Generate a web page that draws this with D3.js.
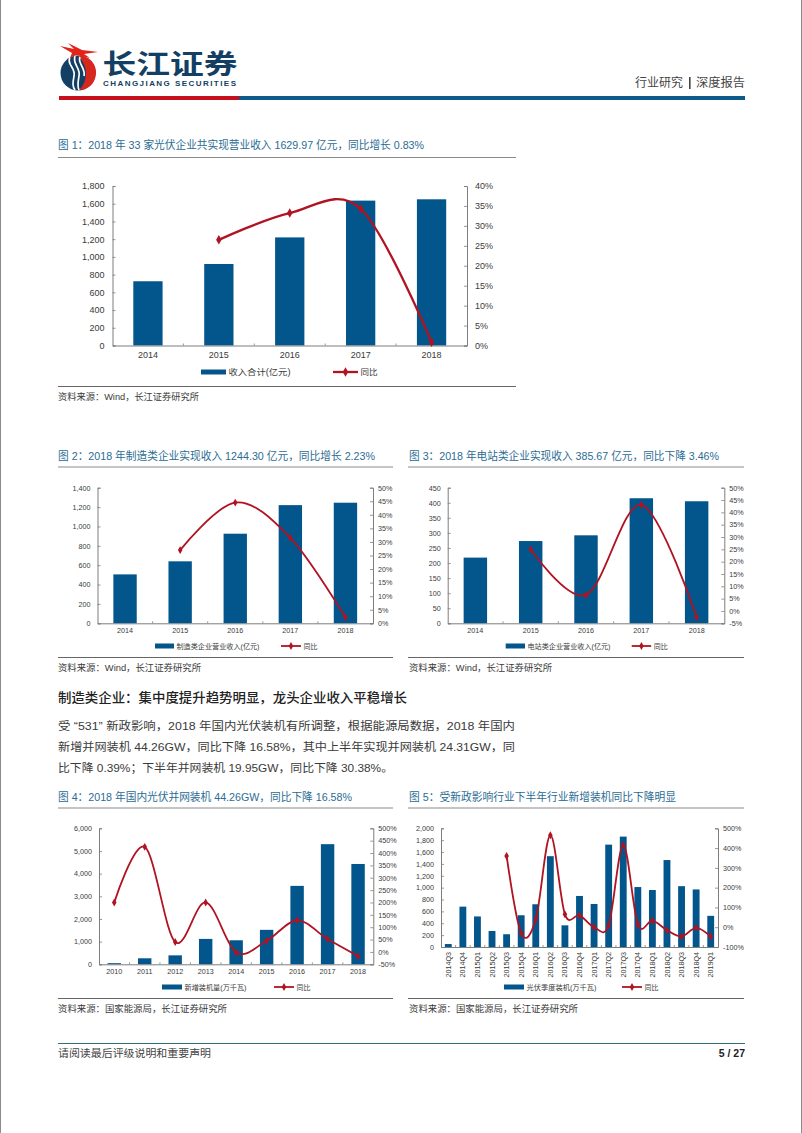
<!DOCTYPE html>
<html lang="zh">
<head>
<meta charset="utf-8">
<title>长江证券 行业研究 深度报告</title>
<script src="https://d3js.org/d3.v7.min.js"></script>
<style>
html,body{margin:0;padding:0;background:#fff}
svg{display:block}
text{font-family:"Liberation Sans","Noto Sans CJK SC",sans-serif}
</style>
</head>
<body>
<svg id="page" width="802" height="1133" viewBox="0 0 802 1133"></svg>
<script>
// ---------- data ----------
const years1 = ["2014","2015","2016","2017","2018"];
const revenueTotal = [725,920,1220,1635,1650];
const revenueTotalYoy = [null,26.5,33.2,34.3,0.83];
const revenueTicks1 = [0,200,400,600,800,1000,1200,1400,1600,1800];
const yoyTicks1 = [0,5,10,15,20,25,30,35,40];

const revenueMfg = [505,640,925,1220,1245];
const revenueMfgYoy = [null,27,44.5,31.5,2.23];
const revenueTicks2 = [0,200,400,600,800,1000,1200,1400];
const yoyTicks2 = [0,5,10,15,20,25,30,35,40,45,50];

const revenueStation = [218,273,292,415,405];
const revenueStationYoy = [null,25,6.5,43,-2.5];
const revenueTicks3 = [0,50,100,150,200,250,300,350,400,450];
const yoyTicks3 = [-5,0,5,10,15,20,25,30,35,40,45,50];

const years4 = ["2010","2011","2012","2013","2014","2015","2016","2017","2018"];
const installed = [50,265,395,1120,1060,1520,3460,5300,4426];
const installedYoy = [200,425,40,200,-2,45,128,52,-17];
const installedTicks = [0,1000,2000,3000,4000,5000,6000];
const installedYoyTicks = [-50,0,50,100,150,200,250,300,350,400,450,500];

const quarters = ["2014Q3","2014Q4","2015Q1","2015Q2","2015Q3","2015Q4","2016Q1","2016Q2","2016Q3","2016Q4","2017Q1","2017Q2","2017Q3","2017Q4","2018Q1","2018Q2","2018Q3","2018Q4","2019Q1"];
const quarterly = [50,680,515,270,215,535,720,1530,365,860,725,1725,1860,1010,960,1465,1025,970,525];
const quarterlyYoy = [null,null,null,null,360,-30,40,465,65,60,0,10,415,15,33,-15,-47,-3,-47];
const quarterlyTicks = [0,200,400,600,800,1000,1200,1400,1600,1800,2000];
const quarterlyYoyTicks = [-100,0,100,200,300,400,500];

// ---------- palette ----------
const BAR = "#03568c", LINE = "#b01322", TITLE = "#2b6c93", AXIS = "#7d7d7d", TXT = "#3a3a3a", RULE = "#8a8a8a";

const svg = d3.select("#page");

function label(x, y, str, o = {}) {
  const t = svg.append("text").attr("x", x).attr("y", y).text(str)
    .attr("font-size", o.size || 10).attr("fill", o.fill || TXT)
    .attr("font-weight", o.weight || 400)
    .attr("text-anchor", o.anchor || "start")
    .attr("dominant-baseline", "central");
  if (o.width) t.attr("textLength", o.width).attr("lengthAdjust", o.adjust || "spacingAndGlyphs");
  return t;
}
function rule(x1, x2, y, color, w) {
  svg.append("line").attr("x1", x1).attr("x2", x2).attr("y1", y).attr("y2", y)
    .attr("stroke", color || RULE).attr("stroke-width", w || 1);
}

function combo(c) {
  const g = svg.append("g");
  const x = d3.scaleBand().domain(c.cats).range([c.l, c.r]).paddingInner(c.pad).paddingOuter(c.pad / 2);
  const yL = d3.scaleLinear().domain(d3.extent(c.lt)).range([c.b, c.t]);
  const yR = d3.scaleLinear().domain(d3.extent(c.rt)).range([c.b, c.t]);
  const cx = d => x(d) + x.bandwidth() / 2;

  // bars
  g.selectAll("rect.bar").data(c.cats).join("rect").attr("class", "bar")
    .attr("x", d => x(d)).attr("width", x.bandwidth())
    .attr("y", (d, i) => yL(c.bars[i])).attr("height", (d, i) => yL(0) - yL(c.bars[i]))
    .attr("fill", BAR);

  // axes (ticks point inward)
  const fmt = d3.format(",");
  const ts = 3;
  const axL = g.append("g").attr("transform", `translate(${c.l},0)`)
    .call(d3.axisLeft(yL).tickValues(c.lt).tickSize(-ts).tickPadding(c.lp).tickFormat(fmt));
  const axR = g.append("g").attr("transform", `translate(${c.r},0)`)
    .call(d3.axisRight(yR).tickValues(c.rt).tickSize(-ts).tickPadding(c.rp).tickFormat(d => d + "%"));
  const axB = g.append("g").attr("transform", `translate(0,${c.b})`)
    .call(d3.axisBottom(x).tickSize(0).tickPadding(c.bp));
  // category boundary ticks
  g.selectAll("line.sep").data(d3.range(1, c.cats.length)).join("line").attr("class", "sep")
    .attr("x1", i => c.l + (c.r - c.l) * i / c.cats.length)
    .attr("x2", i => c.l + (c.r - c.l) * i / c.cats.length)
    .attr("y1", c.b).attr("y2", c.b - 2).attr("stroke", AXIS).attr("stroke-width", 0.8);

  [axL, axR, axB].forEach(a => {
    a.selectAll("path").attr("stroke", AXIS).attr("stroke-width", 1);
    a.selectAll("line").attr("stroke", AXIS).attr("stroke-width", 0.8);
    a.selectAll("text").attr("fill", TXT).attr("font-size", c.fs)
      .attr("font-family", '"Liberation Sans",sans-serif');
  });
  if (c.rotate) {
    axB.selectAll("text")
      .attr("transform", "rotate(-90)")
      .attr("text-anchor", "end").attr("dy", "0.35em")
      .attr("x", -c.bp).attr("y", 0);
  }

  // line
  const pts = c.cats.map((d, i) => ({ d, v: c.line[i] })).filter(p => p.v !== null);
  const path = d3.line().x(p => cx(p.d)).y(p => yR(p.v)).curve(d3.curveCatmullRom.alpha(0));
  g.append("path").datum(pts).attr("d", path).attr("fill", "none")
    .attr("stroke", LINE).attr("stroke-width", c.lw).attr("stroke-linejoin", "round");
  const sym = d3.symbol().type(d3.symbolDiamond).size(c.ms);
  g.selectAll("path.pt").data(pts).join("path").attr("class", "pt")
    .attr("transform", p => `translate(${cx(p.d)},${yR(p.v)})`)
    .attr("d", sym).attr("fill", LINE);

  // legend
  const L = c.leg;
  g.append("rect").attr("x", L.sx).attr("y", L.y - 2.5).attr("width", L.sw).attr("height", 5).attr("fill", BAR);
  label(L.sx + L.sw + 2.5, L.y, c.barName, { size: c.lfs, width: L.tw });
  g.append("line").attr("x1", L.lx).attr("x2", L.lx + L.lw).attr("y1", L.y).attr("y2", L.y)
    .attr("stroke", LINE).attr("stroke-width", c.lw);
  g.append("path").attr("transform", `translate(${L.lx + L.lw / 2},${L.y})`).attr("d", sym).attr("fill", LINE);
  label(L.lx + L.lw + 2.5, L.y, "同比", { size: c.lfs });
}

// ---------- page frame ----------
svg.append("rect").attr("width", 802).attr("height", 1133).attr("fill", "#fff");
svg.append("line").attr("x1", 0.5).attr("x2", 0.5).attr("y1", 0).attr("y2", 1133).attr("stroke", "#8c8c8c");
svg.append("line").attr("x1", 801.5).attr("x2", 801.5).attr("y1", 0).attr("y2", 1133).attr("stroke", "#8c8c8c");

// ---------- logo ----------
const logo = svg.append("g");
logo.append("ellipse").attr("cx", 78).attr("cy", 73).attr("rx", 17.5).attr("ry", 17.5).attr("fill", "#123f63");
logo.append("path").attr("d", "M78 56 C90 55 97 65 96 74 C95 84 88 90 79 90 C88 82 89 66 78 56 Z").attr("fill", "#d6281f");
logo.append("path").attr("d", "M70 57 C66 64 76 68 74 76 C73 82 72 86 75 90 M75 56 C72 64 81 68 79 76 C78 82 77 86 79 90 M80 57 C77 63 86 68 84 76")
  .attr("fill", "none").attr("stroke", "#fff").attr("stroke-width", 1.7);
logo.append("path").attr("d", "M60 46 L74 49 L68 43 L82 50 L98 52 L84 54 L90 58 L76 55 L70 58 L72 53 L60 46 Z").attr("fill", "#e2231a");
label(102.5, 64.5, "长江证券", { size: 27, weight: 700, fill: "#123f63", width: 135 });
label(103, 83.5, "CHANGJIANG SECURITIES", { size: 8, weight: 700, fill: "#123f63", width: 133, adjust: "spacing" });
label(635, 83, "行业研究", { size: 12, fill: "#444", width: 48 });
svg.append("rect").attr("x", 689).attr("y", 77).attr("width", 1.6).attr("height", 12).attr("fill", "#444");
label(696, 83, "深度报告", { size: 12, fill: "#444", width: 49 });
svg.append("rect").attr("x", 59).attr("y", 96).attr("width", 180).attr("height", 4).attr("fill", "#c8101c");
svg.append("rect").attr("x", 239).attr("y", 96).attr("width", 506).attr("height", 4).attr("fill", "#0e5a8a");

// ---------- section titles, rules, sources ----------
const T = { size: 11, fill: TITLE };
label(58, 145, "图 1：2018 年 33 家光伏企业共实现营业收入 1629.97 亿元，同比增长 0.83%", { ...T, width: 366 });
rule(58, 516, 157.5);
rule(58, 516, 386.5, "#666");
label(58, 397, "资料来源：Wind，长江证券研究所", { size: 9, width: 141 });

label(58, 456, "图 2：2018 年制造类企业实现收入 1244.30 亿元，同比增长 2.23%", { ...T, width: 317 });
rule(58, 393, 467);
rule(58, 393, 657.5, "#666");
label(58, 668, "资料来源：Wind，长江证券研究所", { size: 9, width: 143 });

label(409, 456, "图 3：2018 年电站类企业实现收入 385.67 亿元，同比下降 3.46%", { ...T, width: 310 });
rule(408, 744, 467);
rule(408, 744, 657.5, "#666");
label(409, 668, "资料来源：Wind，长江证券研究所", { size: 9, width: 143 });

label(58, 697, "制造类企业：集中度提升趋势明显，龙头企业收入平稳增长", { size: 13, weight: 500, fill: "#222", width: 349 });
label(58, 726, "受 “531” 新政影响，2018 年国内光伏装机有所调整，根据能源局数据，2018 年国内", { size: 11.5, width: 457 });
label(58, 747, "新增并网装机 44.26GW，同比下降 16.58%，其中上半年实现并网装机 24.31GW，同", { size: 11.5, width: 457 });
label(58, 768, "比下降 0.39%；下半年并网装机 19.95GW，同比下降 30.38%。", { size: 11.5, width: 335 });

label(58, 797, "图 4：2018 年国内光伏并网装机 44.26GW，同比下降 16.58%", { ...T, width: 294 });
rule(58, 393, 808);
rule(58, 393, 998.5, "#666");
label(58, 1009, "资料来源：国家能源局，长江证券研究所", { size: 9, width: 169 });

label(409, 797, "图 5：受新政影响行业下半年行业新增装机同比下降明显", { ...T, width: 267 });
rule(408, 744, 808);
rule(408, 744, 998.5, "#666");
label(409, 1009, "资料来源：国家能源局，长江证券研究所", { size: 9, width: 169 });

// ---------- footer ----------
rule(58, 745, 1043.5, "#2f6f7e", 1);
label(58, 1053, "请阅读最后评级说明和重要声明", { size: 10.5, fill: "#444", width: 153 });
label(745, 1053, "5 / 27", { size: 10.5, weight: 700, fill: "#222", anchor: "end" });

// ---------- charts ----------
combo({ cats: years1, bars: revenueTotal, line: revenueTotalYoy, lt: revenueTicks1, rt: yoyTicks1,
  l: 112.5, r: 467, t: 186, b: 345.5, pad: 0.587, fs: 9, lfs: 8.5, lw: 2.3, ms: 26, lp: 8, rp: 8, bp: 6,
  barName: "收入合计(亿元)", leg: { y: 372, sx: 201, sw: 25, tw: 62, lx: 333, lw: 25 } });

combo({ cats: years1, bars: revenueMfg, line: revenueMfgYoy, lt: revenueTicks2, rt: yoyTicks2,
  l: 97.5, r: 373, t: 487.7, b: 623.3, pad: 0.576, fs: 7.2, lfs: 7, lw: 1.8, ms: 18, lp: 7, rp: 5, bp: 5,
  barName: "制造类企业营业收入(亿元)", leg: { y: 646, sx: 155, sw: 19, tw: 83, lx: 281, lw: 20 } });

combo({ cats: years1, bars: revenueStation, line: revenueStationYoy, lt: revenueTicks3, rt: yoyTicks3,
  l: 447.7, r: 724.3, t: 487.7, b: 623.3, pad: 0.576, fs: 7.2, lfs: 7, lw: 1.8, ms: 18, lp: 7, rp: 5, bp: 5,
  barName: "电站类企业营业收入(亿元)", leg: { y: 646, sx: 505.7, sw: 19.3, tw: 83, lx: 631.7, lw: 19.5 } });

combo({ cats: years4, bars: installed, line: installedYoy, lt: installedTicks, rt: installedYoyTicks,
  l: 99, r: 373.3, t: 828.3, b: 964.3, pad: 0.56, fs: 7.2, lfs: 7, lw: 1.8, ms: 18, lp: 7, rp: 5, bp: 5,
  barName: "新增装机量(万千瓦)", leg: { y: 987, sx: 162, sw: 20, tw: 62, lx: 274, lw: 20 } });

combo({ cats: quarters, bars: quarterly, line: quarterlyYoy, lt: quarterlyTicks, rt: quarterlyYoyTicks,
  l: 441, r: 718, t: 828.3, b: 947, pad: 0.53, fs: 7.2, lfs: 7, lw: 1.8, ms: 18, lp: 7, rp: 5, bp: 5, rotate: true,
  barName: "光伏季度装机(万千瓦)", leg: { y: 987, sx: 504, sw: 20, tw: 70, lx: 622, lw: 20 } });
</script>
</body>
</html>
